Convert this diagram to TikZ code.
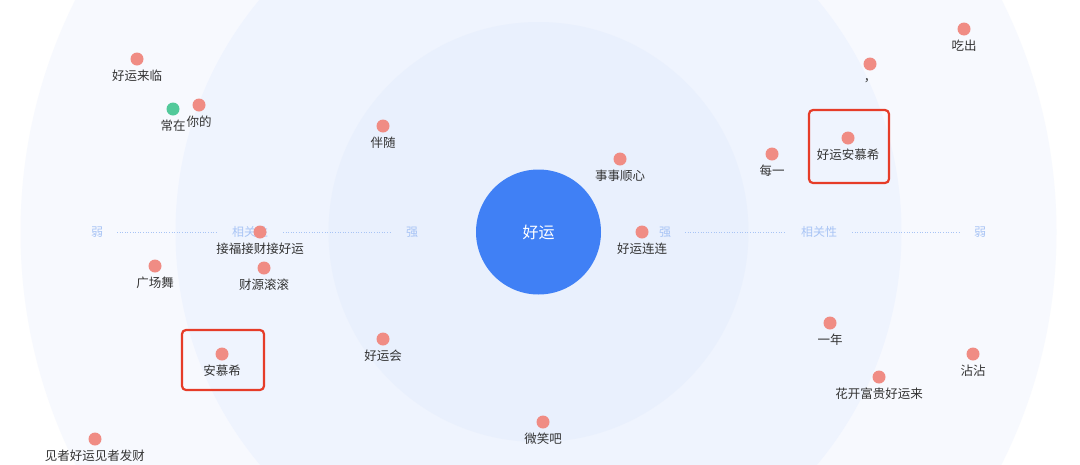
\documentclass[tikz,border=0pt]{standalone}
\usepackage{fontspec}
\setmainfont{Noto Sans CJK SC}
\newfontfamily\cjk{Noto Sans CJK SC}
\definecolor{bgA}{HTML}{F7F9FE}
\definecolor{bgB}{HTML}{EFF4FE}
\definecolor{bgC}{HTML}{E9F0FD}
\definecolor{core}{HTML}{4080F5}
\definecolor{dotred}{HTML}{F08C84}
\definecolor{dotgreen}{HTML}{52C99A}
\definecolor{axisblue}{HTML}{A8C4F5}
\definecolor{txt}{HTML}{333333}
\definecolor{boxred}{HTML}{E63C28}
\tikzset{
  dotnode/.style={circle,fill=dotred,inner sep=0pt,minimum size=13pt},
  gdotnode/.style={circle,fill=dotgreen,inner sep=0pt,minimum size=13pt},
  word/.style={text=txt,font=\cjk\fontsize{12.5}{14}\selectfont,inner sep=0pt,anchor=center},
  axislbl/.style={text=axisblue,font=\cjk\fontsize{12}{14}\selectfont,inner sep=0pt},
  axisline/.style={axisblue,line width=0.8pt,dash pattern=on 1pt off 1.6pt},
  hibox/.style={draw=boxred,line width=2.2pt,rounded corners=4pt}
}
\begin{document}
\begin{tikzpicture}[x=1pt,y=-1pt]
\useasboundingbox (0,0) rectangle (1080,464);
\clip (0,0) rectangle (1080,464);
\fill[white] (0,0) rectangle (1080,464);
\fill[bgA] (538.5,232) circle (518);
\fill[bgB] (538.5,232) circle (363);
\fill[bgC] (538.5,232) circle (210);
% axis
\node[axislbl] (wl) at (97,232) {弱};
\node[axislbl] (rl) at (250,232) {相关性};
\node[axislbl] (sl) at (412,232) {强};
\node[axislbl] (sr) at (665,232) {强};
\node[axislbl] (rr) at (819,232) {相关性};
\node[axislbl] (wr) at (980,232) {弱};
\coordinate (a1) at (117,232); \coordinate (a2) at (217,232);
\coordinate (a3) at (283,232); \coordinate (a4) at (391,232);
\coordinate (a5) at (685,232); \coordinate (a6) at (784,232);
\coordinate (a7) at (852,232); \coordinate (a8) at (959,232);
\draw[axisline] (a1) -- (a2);
\draw[axisline] (a3) -- (a4);
\draw[axisline] (a5) -- (a6);
\draw[axisline] (a7) -- (a8);
% core
\node[circle,fill=core,minimum size=125pt,inner sep=0pt,text=white,font=\cjk\fontsize{16}{18}\selectfont] (core) at (538.5,232) {好运};
% highlight boxes
\draw[hibox] (182,330) rectangle (264,390);
\draw[hibox] (809,110) rectangle (889,183);
% dots and words
\newcommand{\kw}[4]{\node[dotnode] (#1) at (#2,#3) {}; \node[word] (#1t) at (#2,#3+17) {#4};}
\kw{d1}{137}{59}{好运来临}
\node[gdotnode] (d2) at (173,109) {}; \node[word] (d2t) at (173,126) {常在};
\kw{d3}{199}{105}{你的}
\kw{d4}{383}{126}{伴随}
\kw{d5}{620}{159}{事事顺心}
\kw{d6}{642}{232}{好运连连}
\kw{d7}{260}{232}{接福接财接好运}
\kw{d8}{155}{266}{广场舞}
\kw{d9}{264}{268}{财源滚滚}
\kw{d10}{222}{354}{安慕希}
\kw{d11}{383}{339}{好运会}
\kw{d12}{543}{422}{微笑吧}
\kw{d13}{95}{439}{见者好运见者发财}
\kw{d14}{964}{29}{吃出}
\kw{d15}{870}{64}{，}
\kw{d16}{848}{138}{好运安慕希}
\kw{d17}{772}{154}{每一}
\kw{d18}{830}{323}{一年}
\kw{d19}{973}{354}{沾沾}
\kw{d20}{879}{377}{花开富贵好运来}
\end{tikzpicture}
\end{document}
